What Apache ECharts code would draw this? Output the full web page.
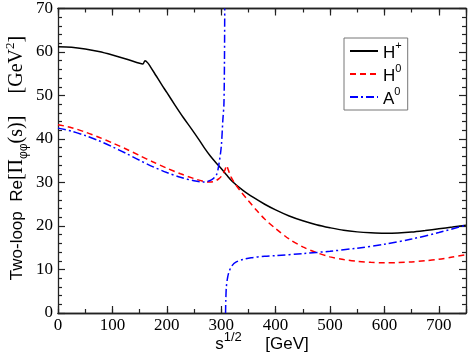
<!DOCTYPE html>
<html>
<head>
<meta charset="utf-8">
<script src="https://cdn.jsdelivr.net/npm/echarts@6/dist/echarts.min.js"></script>
<style>html,body{margin:0;padding:0;background:#fff}#c{width:469px;height:361px}</style>
</head>
<body>
<div id="c"></div>
<script>
// ---- data ----
const hPlusX = [0,25,50,75,100,125,150,156,160,165,170,180,190,200,215,230,245,260,270,280,290,300,310,320,340,360,380,400,425,450,475,500,525,550,575,600,625,650,675,700,725,750];
const hPlusY = [61.2,61.1,60.7,60.1,59.3,58.4,57.4,57.25,58.0,57.5,56.6,54.6,52.6,50.7,47.8,45.0,42.4,39.7,37.8,36.1,34.6,33.2,31.7,30.3,28.2,26.5,25.0,23.7,22.3,21.2,20.3,19.6,19.0,18.65,18.45,18.35,18.4,18.6,18.95,19.35,19.75,20.2];

const h0X = [0,25,50,75,100,125,150,175,200,225,250,265,278,288,296,302,307,310,313,318,325,335,350,365,380,400,425,450,475,500,525,550,575,600,625,650,675,700,725,750];
const h0Y = [43.3,42.6,41.6,40.4,39.1,37.7,36.2,34.7,33.3,32.0,30.9,30.35,30.1,30.3,30.9,31.7,32.9,33.9,32.9,31.3,29.8,28.1,25.8,23.6,21.6,19.4,17.0,15.2,13.9,12.9,12.3,11.9,11.65,11.55,11.6,11.75,12.0,12.35,12.85,13.4];

const a0UpperX = [0,25,50,75,100,125,150,175,200,225,250,269,282,291,295,300,303,305,306,306.5];
const a0UpperY = [42.5,41.8,40.8,39.6,38.2,36.7,35.1,33.6,32.3,31.2,30.4,30.1,30.6,31.7,33.6,38.1,44.3,48.0,58.0,70.0];
const a0LowerX = [308,308.5,309.5,312,315,320,327,340,355,380,400,450,500,550,600,650,700,750];
const a0LowerY = [0,3,6,8.3,9.7,10.9,11.7,12.3,12.7,13.05,13.2,13.65,14.2,14.9,15.8,17.0,18.5,20.2];

const seriesNames = ['H+', 'H0', 'A0'];
const xTicks = [0,100,200,300,400,500,600,700];
const yTicks = [0,10,20,30,40,50,60,70];

// ---- build ----
const zip = (xs, ys) => xs.map((x, i) => [x, ys[i]]);
const a0Data = zip(a0UpperX, a0UpperY).concat([[307.2, null]], zip(a0LowerX, a0LowerY));

const serif = "'Liberation Serif', 'Nimbus Roman', 'DejaVu Serif', serif";
const sans = "'Liberation Sans', Arial, Helvetica, sans-serif";
const frame = '#222';

const labelRich = {
  m: {fontSize: 17, fontFamily: sans, color: '#000', lineHeight: 22, verticalAlign: 'bottom'},
  s: {fontSize: 11, fontFamily: sans, color: '#000', lineHeight: 12, verticalAlign: 'top'}
};
const legendFmt = {'H+': '{m|H}{s|+}', 'H0': '{m|H}{s|0}', 'A0': '{m|A}{s|0}'};

function xAxisDef(pos, interval, len, showLabel) {
  return {
    type: 'value', position: pos, min: 0, max: 750, interval: interval,
    axisLine: {show: true, onZero: false, lineStyle: {color: frame, width: 1.3}},
    axisTick: {show: true, inside: true, length: len, lineStyle: {color: frame, width: 1.2}},
    axisLabel: {
      show: showLabel, margin: 4, color: '#000', fontFamily: serif, fontSize: 17,
      formatter: v => xTicks.indexOf(v) >= 0 ? String(v) : ''
    },
    splitLine: {show: false}
  };
}
function yAxisDef(pos, showLabel) {
  return {
    type: 'value', position: pos, min: 0, max: 70, interval: 10,
    axisLine: {show: true, onZero: false, lineStyle: {color: frame, width: 1.3}},
    axisTick: {show: true, inside: true, length: 7, lineStyle: {color: frame, width: 1.2}},
    minorTick: {show: true, splitNumber: 5, length: 4, lineStyle: {color: frame, width: 1.2}},
    axisLabel: {
      show: showLabel, margin: 5, color: '#000', fontFamily: serif, fontSize: 17,
      formatter: v => yTicks.indexOf(v) >= 0 ? String(v) : ''
    },
    splitLine: {show: false}, minorSplitLine: {show: false}
  };
}

const xAxes = [xAxisDef('bottom', 50, 4, false), xAxisDef('bottom', 100, 7, true),
               xAxisDef('top', 50, 4, false), xAxisDef('top', 100, 7, false)];
xAxes[1].name = '{a|s}{sup|1/2}{a|     [GeV]}';
xAxes[1].nameLocation = 'middle';
xAxes[1].nameGap = 18;
xAxes[1].nameMoveOverlap = false;
xAxes[1].nameTextStyle = {
  rich: {
    a: {fontSize: 17, fontFamily: sans, color: '#000', lineHeight: 22, verticalAlign: 'bottom'},
    sup: {fontSize: 13, fontFamily: sans, color: '#000', lineHeight: 13, verticalAlign: 'top'}
  }
};

const chart = echarts.init(document.getElementById('c'), null, {renderer: 'canvas'});
chart.setOption({
  animation: false,
  backgroundColor: '#fff',
  grid: {left: 58, right: 3, top: 8, bottom: 48, containLabel: false},
  xAxis: xAxes,
  yAxis: [yAxisDef('left', true), yAxisDef('right', false)],
  legend: {
    orient: 'vertical', left: 344, top: 38,
    data: seriesNames,
    itemWidth: 28, itemHeight: 14, itemGap: 1,
    padding: [2, 6, 2, 5],
    borderColor: '#777', borderWidth: 1, backgroundColor: '#fff',
    itemStyle: {opacity: 0},
    formatter: n => legendFmt[n],
    textStyle: {rich: labelRich}
  },
  graphic: [{
    type: 'text', x: 17, y: 158, rotation: Math.PI / 2,
    style: {
      text: '{a|Two-loop  Re}{b|[Π}{sub|φφ}{b|(s)]}{sp|     }{b|[GeV}{sup|2}{b|]}',
      align: 'center', verticalAlign: 'middle',
      rich: {
        a: {fontSize: 17, fontFamily: sans, fill: '#000', lineHeight: 26, verticalAlign: 'middle'},
        sp: {fontSize: 16, fontFamily: sans, fill: '#000', lineHeight: 26, verticalAlign: 'middle'},
        b: {fontSize: 20, fontFamily: serif, fill: '#000', lineHeight: 26, verticalAlign: 'middle'},
        sub: {fontSize: 12, fontFamily: sans, fill: '#000', lineHeight: 12, verticalAlign: 'bottom'},
        sup: {fontSize: 13, fontFamily: serif, fill: '#000', lineHeight: 13, verticalAlign: 'top'}
      }
    }
  }],
  series: [
    {name: 'H+', type: 'line', xAxisIndex: 0, yAxisIndex: 0, data: zip(hPlusX, hPlusY),
     symbol: 'none', smooth: 0.3, clip: true, color: '#000',
     lineStyle: {color: '#000', width: 1.5, type: 'solid'}},
    {name: 'H0', type: 'line', xAxisIndex: 0, yAxisIndex: 0, data: zip(h0X, h0Y),
     symbol: 'none', smooth: 0.3, clip: true, color: '#ff0000',
     lineStyle: {color: '#ff0000', width: 1.5, type: [6, 4]}},
    {name: 'A0', type: 'line', xAxisIndex: 0, yAxisIndex: 0, data: a0Data, connectNulls: false,
     symbol: 'none', smooth: 0.3, clip: true, color: '#0000ff',
     lineStyle: {color: '#0000ff', width: 1.5, type: [8, 3, 2, 3]}}
  ]
});
</script>
</body>
</html>
